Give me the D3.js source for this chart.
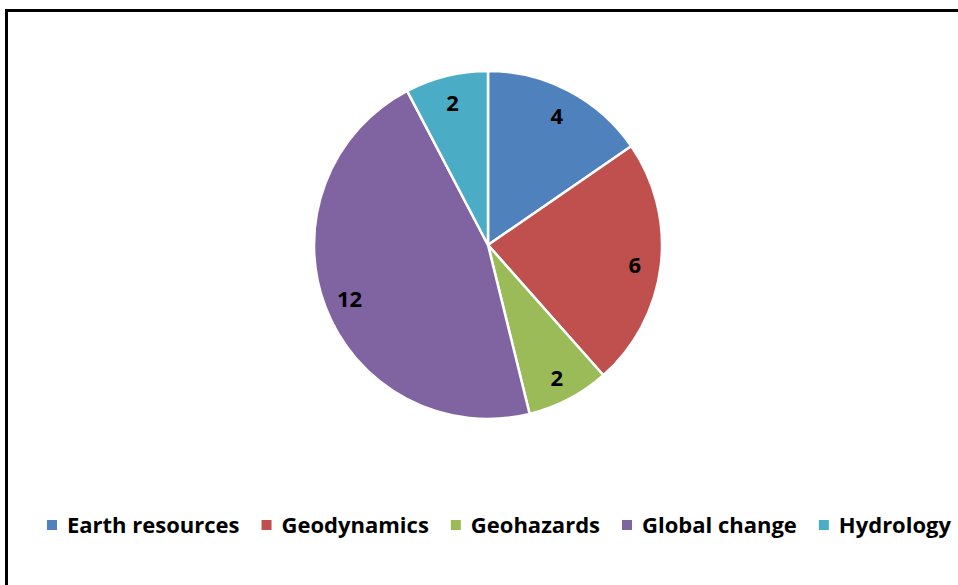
<!DOCTYPE html>
<html>
<head>
<meta charset="utf-8">
<script src="https://cdn.jsdelivr.net/npm/d3@7"></script>
<style>
  html, body { margin: 0; padding: 0; background: #fff; }
  svg { display: block; }
  text { font-family: "Open Sans", "Noto Sans", sans-serif; font-weight: bold; fill: #000; }
</style>
</head>
<body>
<svg id="chart" width="958" height="585"></svg>
<script>
// Topics and the number of items in each
const categories = ["Earth resources", "Geodynamics", "Geohazards", "Global change", "Hydrology"];
const values = [4, 6, 2, 12, 2];
const colors = ["#4F81BD", "#C0504D", "#9BBB59", "#8064A2", "#4BACC6"];

const W = 958, H = 585;
const svg = d3.select("#chart");

// Outer frame (runs past the right and bottom edges)
svg.append("rect")
  .attr("x", 6.5).attr("y", 10.5)
  .attr("width", W + 20).attr("height", H + 20)
  .attr("fill", "#fff")
  .attr("stroke", "#000")
  .attr("stroke-width", 3);

const cx = 488, cy = 245, radius = 174;
const data = categories.map((c, i) => ({ name: c, value: values[i], color: colors[i] }));

const pie = d3.pie().value(d => d.value).sort(null);
const arc = d3.arc().innerRadius(0).outerRadius(radius);
const labelArc = d3.arc().innerRadius(148).outerRadius(148);

const g = svg.append("g").attr("transform", `translate(${cx},${cy})`);
const arcs = pie(data);

g.selectAll("path.slice")
  .data(arcs)
  .join("path")
  .attr("class", "slice")
  .attr("d", arc)
  .attr("fill", d => d.data.color)
  .attr("stroke", "#fff")
  .attr("stroke-width", 2.5)
  .attr("stroke-linejoin", "round");

g.selectAll("text.val")
  .data(arcs)
  .join("text")
  .attr("class", "val")
  .attr("transform", d => `translate(${labelArc.centroid(d)})`)
  .attr("text-anchor", "middle")
  .attr("dy", "0.45em")
  .style("font-size", "22px")
  .text(d => d.data.value);

// Legend: square swatch + label, laid out in one centered row
const legend = svg.append("g").attr("class", "legend");
const legendY = 525;
const sw = 10, swGap = 10, itemGap = 22;
const items = legend.selectAll("g.item")
  .data(data)
  .join("g")
  .attr("class", "item");

items.append("rect")
  .attr("width", sw).attr("height", sw)
  .attr("y", legendY - sw / 2)
  .attr("fill", d => d.color);

items.append("text")
  .attr("y", legendY)
  .attr("dy", "0.36em")
  .style("font-size", "22px")
  .text(d => d.name);

const widths = [];
items.each(function () {
  widths.push(d3.select(this).select("text").node().getComputedTextLength());
});
const total = d3.sum(widths) + data.length * (sw + swGap) + (data.length - 1) * itemGap;
let x = 499 - total / 2;
items.each(function (d, i) {
  const it = d3.select(this);
  it.select("rect").attr("x", x);
  it.select("text").attr("x", x + sw + swGap);
  x += sw + swGap + widths[i] + itemGap;
});
</script>
</body>
</html>
